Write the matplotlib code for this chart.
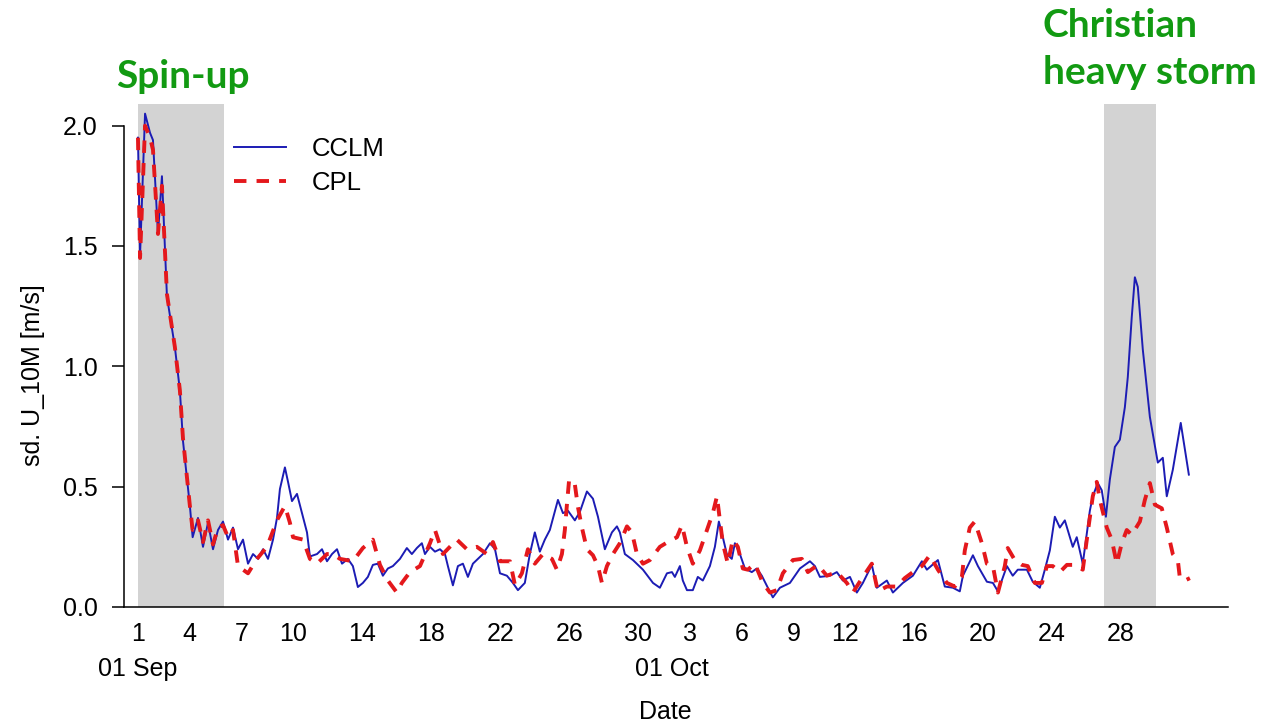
import matplotlib
matplotlib.use("Agg")
import matplotlib.pyplot as plt
from matplotlib.lines import Line2D

# ---- data (days since 01 Sep, value in m/s) ----
cclm_day = [0.0, 0.12, 0.41, 0.70, 0.87, 1.16, 1.39, 1.68, 2.14, 2.43, 2.61, 3.01, 3.17, 3.48, 3.77,
            4.06, 4.35, 4.64, 4.93, 5.22, 5.51, 5.80, 6.09, 6.38, 6.67, 6.96, 7.25, 7.54, 7.83, 8.06,
            8.23, 8.52, 8.70, 8.93, 9.22, 9.51, 9.80, 9.97, 10.38, 10.67, 10.96, 11.25, 11.54, 11.83,
            12.17, 12.46, 12.75, 13.04, 13.33, 13.62, 13.91, 14.20, 14.49, 14.78, 15.19, 15.59, 15.88,
            16.17, 16.46, 16.64, 16.93, 17.22, 17.51, 17.80, 17.97, 18.26, 18.55, 18.84, 19.13, 19.42,
            19.71, 20.00, 20.41, 20.70, 20.99, 21.39, 21.74, 22.03, 22.43, 22.72, 23.01, 23.30, 23.59,
            23.88, 24.35, 24.64, 24.93, 25.33, 25.62, 26.03, 26.38, 26.67, 27.07, 27.48, 27.77, 27.94,
            28.23, 28.70, 29.28, 29.86, 30.26, 30.67, 30.96, 31.13, 31.42, 31.59, 31.83, 32.17, 32.46,
            32.75, 33.16, 33.45, 33.68, 33.91, 34.14, 34.43, 34.61, 34.90, 35.19, 35.59, 35.88, 36.17,
            36.52, 36.81, 37.22, 37.80, 38.38, 38.96, 39.25, 39.54, 40.12, 40.52, 40.87, 41.28, 41.68,
            42.03, 42.55, 42.84, 43.42, 43.77, 44.35, 44.93, 45.45, 45.74, 46.38, 46.78, 47.25, 47.65,
            47.83, 48.41, 48.70, 49.22, 49.57, 49.86, 50.38, 50.72, 51.01, 51.54, 51.88, 52.29, 52.58,
            52.87, 53.16, 53.45, 53.74, 54.03, 54.20, 54.43, 54.78, 55.19, 55.36, 55.65, 55.88, 56.12,
            56.35, 56.64, 56.93, 57.22, 57.39, 57.62, 57.80, 57.97, 58.26, 58.67, 58.84, 59.13, 59.42,
            59.65, 60.00, 60.46, 60.70, 60.93]
cclm_val = [1.95, 1.46, 2.05, 1.97, 1.94, 1.55, 1.79, 1.29, 1.08, 0.90, 0.69, 0.42, 0.29, 0.37, 0.25,
            0.35, 0.24, 0.32, 0.355, 0.28, 0.33, 0.24, 0.28, 0.18, 0.22, 0.20, 0.24, 0.20, 0.28, 0.37,
            0.49, 0.58, 0.52, 0.44, 0.47, 0.39, 0.31, 0.21, 0.22, 0.24, 0.19, 0.22, 0.24, 0.18,
            0.20, 0.17, 0.083, 0.10, 0.125, 0.175, 0.18, 0.13, 0.16, 0.17, 0.20, 0.245, 0.22,
            0.245, 0.265, 0.22, 0.25, 0.23, 0.24, 0.22, 0.17, 0.09, 0.17, 0.18, 0.125, 0.18,
            0.20, 0.22, 0.265, 0.24, 0.14, 0.13, 0.10, 0.07, 0.10, 0.22, 0.31, 0.23, 0.28,
            0.32, 0.445, 0.39, 0.40, 0.36, 0.395, 0.48, 0.45, 0.375, 0.24, 0.31, 0.335, 0.31,
            0.22, 0.195, 0.155, 0.10, 0.08, 0.14, 0.145, 0.125, 0.17, 0.11, 0.07, 0.07, 0.125,
            0.11, 0.17, 0.25, 0.355, 0.29, 0.22, 0.20, 0.265, 0.22, 0.16, 0.145, 0.16, 0.13,
            0.08, 0.04, 0.08, 0.10, 0.16, 0.19, 0.17, 0.125, 0.13, 0.145, 0.11, 0.125, 0.06,
            0.10, 0.175, 0.08, 0.11, 0.06, 0.10, 0.13, 0.19, 0.155, 0.195, 0.085, 0.08, 0.065,
            0.13, 0.215, 0.17, 0.105, 0.10, 0.065, 0.17, 0.13, 0.155, 0.155, 0.105, 0.08, 0.155,
            0.235, 0.375, 0.33, 0.36, 0.29, 0.25, 0.29, 0.18, 0.40, 0.46, 0.515, 0.485, 0.375,
            0.53, 0.665, 0.695, 0.83, 0.955, 1.205, 1.37, 1.33, 1.07, 0.79, 0.72, 0.60, 0.62,
            0.46, 0.57, 0.765, 0.655, 0.55]

cpl_day = [0.0, 0.12, 0.41, 0.70, 0.87, 1.16, 1.39, 1.68, 2.14, 2.43, 2.61, 3.01, 3.17, 3.48, 3.77,
           4.06, 4.35, 4.64, 4.93, 5.22, 5.51, 5.80, 6.38, 6.90, 7.48, 8.06, 8.52, 8.81, 8.99, 9.57,
           9.97, 10.38, 10.96, 11.30, 11.71, 12.46, 13.04, 13.62, 14.03, 14.49, 15.01, 15.30, 15.77,
           16.35, 16.93, 17.22, 17.68, 18.49, 19.07, 19.65, 20.23, 20.58, 20.99, 21.57, 21.86, 22.26,
           22.61, 23.01, 23.48, 24.00, 24.29, 24.58, 24.75, 24.87, 25.00, 25.33, 25.51, 25.74, 26.03,
           26.38, 26.67, 26.90, 27.19, 27.54, 27.94, 28.35, 28.64, 28.93, 29.28, 29.68, 30.26, 30.72,
           31.25, 31.54, 31.83, 32.17, 32.58, 32.99, 33.33, 33.57, 33.74, 33.91, 34.20, 34.49, 34.78,
           35.07, 35.36, 35.77, 36.23, 36.64, 37.04, 37.39, 37.97, 38.49, 38.84, 39.42, 39.94, 40.52,
           41.10, 41.45, 42.03, 42.55, 42.90, 43.42, 44.00, 44.46, 44.93, 45.45, 45.91, 46.38, 46.90,
           47.36, 47.77, 47.94, 48.23, 48.52, 48.93, 49.22, 49.57, 49.86, 50.26, 50.43, 50.84, 51.25,
           51.59, 52.00, 52.41, 52.70, 53.04, 53.45, 53.86, 54.32, 54.78, 55.07, 55.36, 55.59, 55.77,
           56.17, 56.46, 56.75, 57.04, 57.33, 57.62, 58.09, 58.38, 58.67, 58.96, 59.36, 59.65, 60.00,
           60.29, 60.41, 60.70, 60.99]
cpl_val = [1.95, 1.45, 2.00, 1.95, 1.90, 1.55, 1.75, 1.30, 1.08, 0.90, 0.70, 0.42, 0.32, 0.36, 0.27,
           0.36, 0.26, 0.33, 0.34, 0.29, 0.32, 0.17, 0.14, 0.20, 0.25, 0.36, 0.42, 0.35, 0.29, 0.28,
           0.20, 0.18, 0.22, 0.22, 0.20, 0.19, 0.245, 0.28, 0.175, 0.11, 0.06, 0.10, 0.145,
           0.17, 0.265, 0.32, 0.22, 0.28, 0.24, 0.25, 0.22, 0.27, 0.19, 0.19, 0.09, 0.14,
           0.24, 0.18, 0.22, 0.20, 0.155, 0.22, 0.32, 0.425, 0.53, 0.51, 0.415, 0.33, 0.24,
           0.215, 0.17, 0.10, 0.17, 0.22, 0.265, 0.335, 0.31, 0.22, 0.18, 0.195, 0.25, 0.27,
           0.29, 0.34, 0.25, 0.18, 0.235, 0.32, 0.39, 0.46, 0.36, 0.265, 0.18, 0.28, 0.25,
           0.16, 0.155, 0.18, 0.10, 0.06, 0.07, 0.14, 0.195, 0.20, 0.145, 0.175, 0.13, 0.145,
           0.10, 0.06, 0.125, 0.18, 0.065, 0.085, 0.085, 0.12, 0.145, 0.17, 0.215, 0.155, 0.10,
           0.085, 0.125, 0.235, 0.33, 0.355, 0.265, 0.18, 0.17, 0.06, 0.17, 0.245, 0.195, 0.175,
           0.17, 0.10, 0.10, 0.17, 0.17, 0.145, 0.175, 0.175, 0.155, 0.31, 0.46, 0.52, 0.445,
           0.33, 0.28, 0.18, 0.265, 0.32, 0.30, 0.355, 0.445, 0.515, 0.425, 0.41, 0.33, 0.22,
           0.195, 0.12, 0.11, 0.12]

tick_days = [0, 3, 6, 9, 13, 17, 21, 25, 29, 32, 35, 38, 41, 45, 49, 53, 57]
tick_labels = ["1", "4", "7", "10", "14", "18", "22", "26", "30", "3", "6", "9", "12",
               "16", "20", "24", "28"]
month_days = [0, 30.95]
month_labels = ["01 Sep", "01 Oct"]
spinup_span = (0, 5)
storm_span = (56, 59)
series_names = ["CCLM", "CPL"]

# ---- figure ----
plt.rcParams['font.family'] = ['Liberation Sans', 'DejaVu Sans']
fig = plt.figure(figsize=(12.62, 7.23), dpi=100)
ax = fig.add_axes([124/1262, (723-607)/723, (1228-124)/1262, (607-104)/723])

ax.axvspan(*spinup_span, color="#d3d3d3", lw=0, zorder=0)
ax.axvspan(*storm_span, color="#d3d3d3", lw=0, zorder=0)

ax.plot(cclm_day, cclm_val, color="#1c1cb4", lw=1.4, zorder=3)
ax.plot(cpl_day, cpl_val, color="#e4181c", lw=2.8, dashes=(3.2, 2.6), zorder=4)

ax.set_xlim(-0.81, 63.2)
ax.set_ylim(0, 2.09)

for s in ["top", "right"]:
    ax.spines[s].set_visible(False)
ax.spines["left"].set_bounds(0, 2.0)
ax.spines["left"].set_linewidth(1.1)
ax.spines["bottom"].set_linewidth(1.1)

ax.set_yticks([0, 0.5, 1.0, 1.5, 2.0])
ax.set_yticklabels(["0.0", "0.5", "1.0", "1.5", "2.0"])
ax.tick_params(axis="y", length=9, width=1.1, pad=10, labelsize=18)
ax.set_xticks(tick_days)
ax.set_xticklabels(tick_labels)
ax.tick_params(axis="x", length=0, pad=11, labelsize=18)

xt = ax.get_xaxis_transform()
for d, lab in zip(month_days, month_labels):
    ax.text(d, -0.100, lab, transform=xt, ha="center", va="top", fontsize=18)

ax.set_ylabel("sd. U_10M [m/s]", fontsize=18)
ax.yaxis.set_label_coords(-0.072, 0.46)
ax.set_xlabel("Date", fontsize=18)
ax.xaxis.set_label_coords(0.49, -0.185)

handles = [Line2D([], [], color="#1c1cb4", lw=1.4),
           Line2D([], [], color="#e4181c", lw=2.8, dashes=(3.2, 2.6))]
ax.legend(handles, series_names, loc="upper left", bbox_to_anchor=(0.1, 0.935),
          frameon=False, fontsize=18.5, handlelength=2.0, handletextpad=1.0,
          labelspacing=0.4, borderpad=0, borderaxespad=0)

green = "#129a12"
fig.text(183/1262, 1 - 88/723, "Spin-up", color=green, fontsize=28, fontweight="bold",
         family="Lato", ha="center", va="baseline")
fig.text(1043/1262, 1 - 37/723, "Christian", color=green, fontsize=28,
         fontweight="bold", family="Lato", ha="left", va="baseline")
fig.text(1043/1262, 1 - 84/723, "heavy storm", color=green, fontsize=28,
         fontweight="bold", family="Lato", ha="left", va="baseline")

fig.savefig("out.png", dpi=100)
